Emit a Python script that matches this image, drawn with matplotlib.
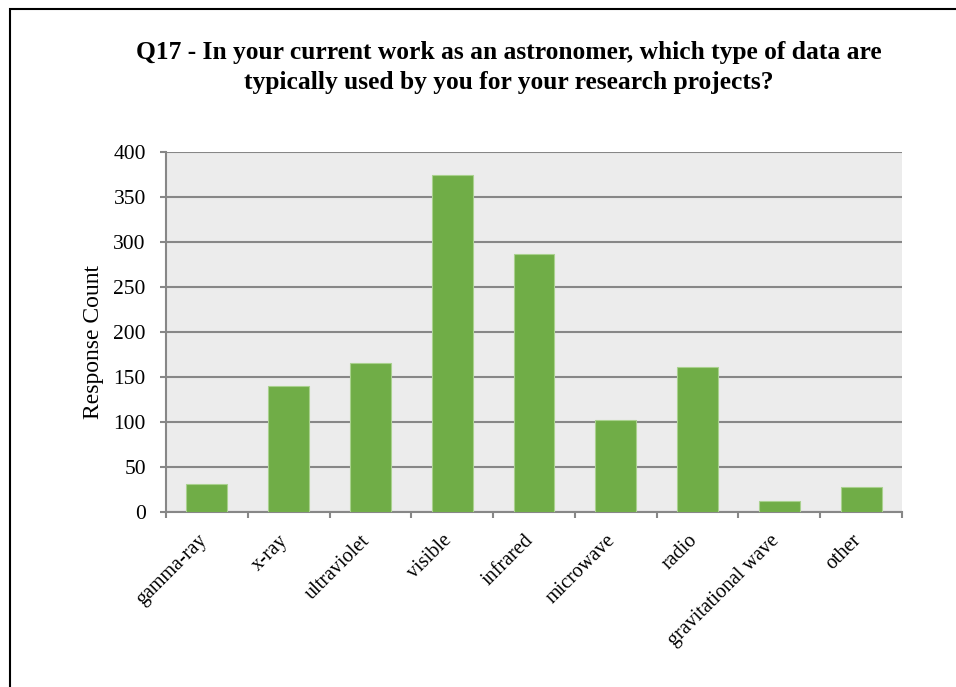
import matplotlib.pyplot as plt
from matplotlib.patches import Rectangle
import numpy as np

# survey answers (Q17)
categories = ['gamma-ray', 'x-ray', 'ultraviolet', 'visible', 'infrared',
              'microwave', 'radio', 'gravitational wave', 'other']
counts = [31, 140, 166, 375, 287, 102, 161, 12, 28]
yticks = [0, 50, 100, 150, 200, 250, 300, 350, 400]

plt.rcParams['font.family'] = 'Liberation Serif'

fig = plt.figure(figsize=(9.56, 6.87), dpi=100)
ax = fig.add_axes([166 / 956, 1 - 512 / 687, (902 - 166) / 956, (512 - 152) / 687])

# chart border (only left and top visible)
fig.patches.append(Rectangle((10 / 956, -0.1), 1.2, (687 - 9) / 687 + 0.1,
                             transform=fig.transFigure, fill=False,
                             edgecolor='black', linewidth=1.5))

x = np.arange(len(categories))
ax.set_facecolor('#ececec')
ax.bar(x, counts, width=0.5, color='#70ad47', edgecolor='#a9d18e',
       linewidth=0.8, zorder=3)

ax.set_xlim(-0.5, len(categories) - 0.5)
ax.set_ylim(0, 400)
ax.set_yticks(yticks)
ax.yaxis.grid(True, color='#878787', linewidth=1.5, zorder=1)
ax.set_axisbelow(True)

ax.set_xticks(x)
ax.set_xticklabels(categories, rotation=45, ha='right', va='baseline',
                   rotation_mode='anchor', fontsize=14.5)
ax.set_xticks(np.arange(len(categories) + 1) - 0.5, minor=True)
ax.tick_params(axis='x', which='major', length=0, pad=21)
ax.tick_params(axis='x', which='minor', length=4.5, width=1.5, color='#878787')
ax.tick_params(axis='y', length=4.5, width=1.5, color='#878787', labelsize=15.5, pad=10)

for s in ['top', 'right']:
    ax.spines[s].set_visible(False)
for s in ['left', 'bottom']:
    ax.spines[s].set_color('#878787')
    ax.spines[s].set_linewidth(1.5)

ax.set_ylabel('Response Count', fontsize=17)
ax.yaxis.set_label_coords(-0.084, 0.472)

fig.text(509 / 956, 1 - 67.5 / 687,
         'Q17 - In your current work as an astronomer, which type of data are\n'
         'typically used by you for your research projects?',
         ha='center', va='center', fontsize=18.4, fontweight='bold', linespacing=1.4)

fig.savefig('out.png', dpi=100)
